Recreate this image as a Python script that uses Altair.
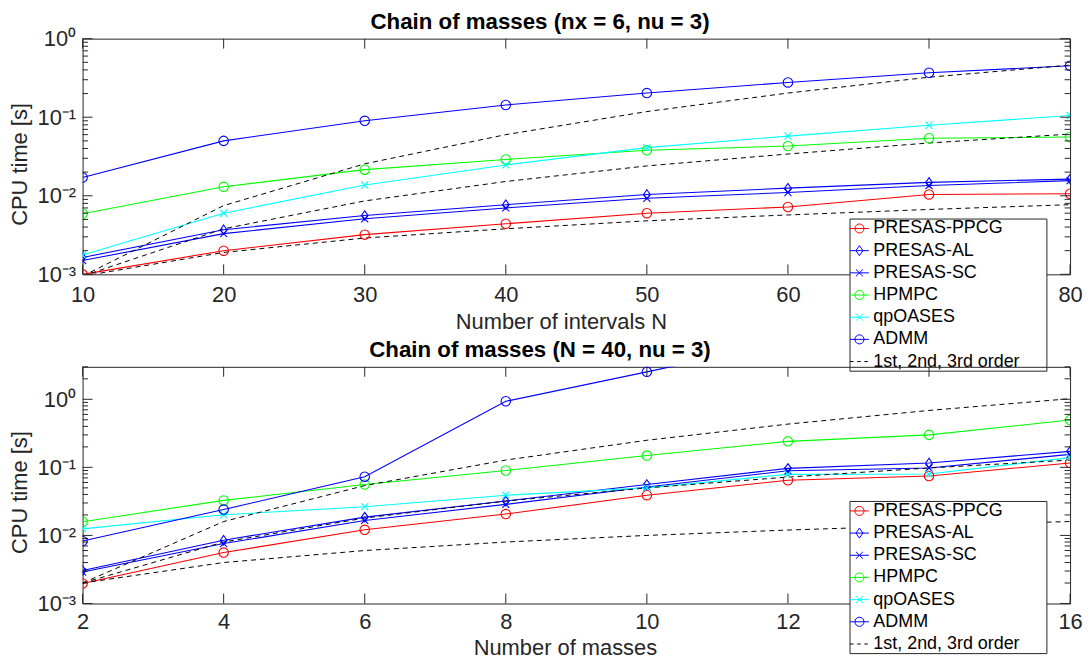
import altair as alt
import pandas as pd

FONT = "Liberation Sans"
AXC = "#262626"

SERIES = ["PRESAS-PPCG", "PRESAS-AL", "PRESAS-SC", "HPMPC", "qpOASES", "ADMM"]
ORDER_LABEL = "1st, 2nd, 3rd order"
COLORS = ["#ff0000", "#0000ff", "#0000ff", "#00ff00", "#00ffff", "#0000ff"]

# ---------------- top panel: CPU time vs number of intervals N ----------------
N_INT = [10, 20, 30, 40, 50, 60, 70, 80]
TOP = {
    "PRESAS-PPCG": [0.00100, 0.0020, 0.0032, 0.0044, 0.0060, 0.0072, 0.0104, 0.0106],
    "PRESAS-AL":   [0.00164, 0.0037, 0.0056, 0.0077, 0.0104, 0.0125, 0.0148, 0.0163],
    "PRESAS-SC":   [0.00150, 0.0033, 0.0051, 0.0070, 0.0093, 0.0110, 0.0135, 0.0156],
    "HPMPC":       [0.0059, 0.0130, 0.0215, 0.0290, 0.0380, 0.0430, 0.0540, 0.0560],
    "qpOASES":     [0.00176, 0.0060, 0.0137, 0.0247, 0.0410, 0.0575, 0.0790, 0.1050],
    "ADMM":        [0.0171, 0.050, 0.090, 0.143, 0.203, 0.277, 0.368, 0.451],
}
TOP_ORDER = {
    "1st": [0.00095, 0.0019, 0.0029, 0.0038, 0.0048, 0.0057, 0.0067, 0.0077],
    "2nd": [0.00095, 0.0038, 0.0086, 0.0152, 0.0240, 0.0340, 0.0470, 0.0610],
    "3rd": [0.00095, 0.0075, 0.0255, 0.0600, 0.1180, 0.2030, 0.3230, 0.4600],
}

# ---------------- bottom panel: CPU time vs number of masses ----------------
MASSES = [2, 4, 6, 8, 10, 12, 14, 16]
BOT = {
    "PRESAS-PPCG": [0.00197, 0.0056, 0.0121, 0.0206, 0.039, 0.0646, 0.0747, 0.116],
    "PRESAS-AL":   [0.00306, 0.0085, 0.0186, 0.0320, 0.056, 0.0967, 0.116, 0.172],
    "PRESAS-SC":   [0.00290, 0.0076, 0.0166, 0.0286, 0.0515, 0.089, 0.098, 0.155],
    "HPMPC":       [0.0159, 0.0327, 0.056, 0.090, 0.149, 0.241, 0.300, 0.497],
    "qpOASES":     [0.0125, 0.0201, 0.0264, 0.039, 0.050, 0.079, 0.080, 0.139],
    "ADMM":        [0.0083, 0.024, 0.073, 0.935, 2.53, 7.0],
}
BOT_ORDER = {
    "1st": [0.002, 0.004, 0.006, 0.008, 0.010, 0.012, 0.014, 0.016],
    "2nd": [0.002, 0.008, 0.018, 0.032, 0.050, 0.072, 0.098, 0.128],
    "3rd": [0.002, 0.016, 0.054, 0.128, 0.250, 0.432, 0.686, 1.020],
}

# ---------------- axis tick positions ----------------
Y_MAJOR = [0.001, 0.01, 0.1, 1]
Y_MINOR_TOP = [0.002, 0.003, 0.004, 0.005, 0.006, 0.007, 0.008, 0.009,
               0.02, 0.03, 0.04, 0.05, 0.06, 0.07, 0.08, 0.09,
               0.2, 0.3, 0.4, 0.5, 0.6, 0.7, 0.8, 0.9]
Y_MINOR_BOT = Y_MINOR_TOP + [2, 3]

W = 993
PLOT_SHAPES = ["circle", "M0,-1L0.7,0L0,1L-0.7,0Z",
               "M-0.75,-0.75L0.75,0.75M-0.75,0.75L0.75,-0.75",
               "circle", "M-0.75,-0.75L0.75,0.75M-0.75,0.75L0.75,-0.75", "circle"]
LEG_CIRCLE = "M-1,0L1,0M0.48,0A0.48,0.48,0,1,1,-0.48,0A0.48,0.48,0,1,1,0.48,0"
LEG_DIAMOND = "M-1,0L1,0M0,-0.53L0.37,0L0,0.53L-0.37,0Z"
LEG_X = "M-1,0L1,0M-0.37,-0.37L0.37,0.37M-0.37,0.37L0.37,-0.37"
LEG_DASH = "M-1,0L-0.62,0M-0.24,0L0.14,0M0.52,0L0.9,0"
LEG_SHAPES = [LEG_CIRCLE, LEG_DIAMOND, LEG_X, LEG_CIRCLE, LEG_X, LEG_CIRCLE, LEG_DASH]

YLABEL = ("datum.value > 0.5 ? '10\u2070' : datum.value > 0.05 ? '10\u207b\u00b9' : "
          "datum.value > 0.005 ? '10\u207b\u00b2' : '10\u207b\u00b3'")
PAD_CHARS = "\u2800" * 2
LEGLABEL = f"datum.label == '{ORDER_LABEL}' ? datum.label + '{PAD_CHARS}' : datum.label"


def long_df(xs, d):
    rows = []
    for s in SERIES:
        for x, y in zip(xs, d[s]):
            rows.append({"x": x, "y": y, "series": s})
    return pd.DataFrame(rows)


def order_df(xs, d):
    rows = []
    for k, vals in d.items():
        for x, y in zip(xs, vals):
            rows.append({"x": x, "y": y, "order": k, "series": ORDER_LABEL})
    return pd.DataFrame(rows)


def panel(xs, xdom, data, orders, ydom, yminor, title, title_off, xtitle, xtitle_x, xtitle_y,
          lab_pad, hidden_label, leg_y, H):
    df = long_df(xs, data)
    dfo = order_df(xs, orders)
    xsc = alt.Scale(domain=xdom, nice=False, zero=False)
    ysc = alt.Scale(type="log", domain=ydom, nice=False)
    xax = alt.Axis(values=xs, title=xtitle, labelPadding=lab_pad, titleX=xtitle_x,
                   titleY=xtitle_y, titleBaseline="alphabetic", format="d", labelFlush=False,
                   labelExpr=f"datum.value == {hidden_label} ? '' : datum.label")
    yax = alt.Axis(values=Y_MAJOR, labelExpr=YLABEL, title="CPU time [s]", labelPadding=7,
                   titleX=-56, titleY=126, titleBaseline="alphabetic", labelFlush=False)

    def X(f="x"):
        return alt.X(f"{f}:Q", scale=xsc, axis=xax)

    def Y(f="y"):
        return alt.Y(f"{f}:Q", scale=ysc, axis=yax)

    def yrules(vals, length, right):
        x0 = W if right else 0
        x1 = W - length if right else length
        return alt.Chart(pd.DataFrame({"v": vals})).mark_rule(color=AXC, strokeWidth=1).encode(
            y=Y("v"), x=alt.value(x0), x2=alt.value(x1))

    def xrules(bottom):
        y0 = H if bottom else 0
        y1 = H - 10 if bottom else 10
        return alt.Chart(pd.DataFrame({"t": xs})).mark_rule(color=AXC, strokeWidth=1).encode(
            x=X("t"), y=alt.value(y0), y2=alt.value(y1))

    rules = [yrules(Y_MAJOR, 10, False), yrules(yminor, 5.5, False),
             yrules(Y_MAJOR, 10, True), yrules(yminor, 5.5, True),
             xrules(False), xrules(True)]

    cs = alt.Scale(domain=SERIES, range=COLORS)
    lines = alt.Chart(df).mark_line(strokeWidth=1.1, clip=True).encode(
        X(), Y(), color=alt.Color("series:N", scale=cs, legend=None))
    dashed = alt.Chart(dfo).mark_line(strokeWidth=1, strokeDash=[5, 4], color="black",
                                      clip=True).encode(X(), Y(), detail="order:N")
    points = alt.Chart(df).mark_point(filled=False, size=90, strokeWidth=1.1, opacity=1,
                                      clip=True).encode(
        X(), Y(),
        color=alt.Color("series:N", scale=cs, legend=None),
        shape=alt.Shape("series:N", scale=alt.Scale(domain=SERIES, range=PLOT_SHAPES),
                        legend=None))

    dom7 = SERIES + [ORDER_LABEL]
    leg = dict(orient="none", legendX=771.2, legendY=leg_y, title=None,
               labelFont=FONT, labelFontSize=18, labelColor="#000000",
               symbolSize=361, symbolStrokeWidth=1, padding=0, rowPadding=3.3,
               labelOffset=4, strokeColor=AXC, fillColor="white", labelLimit=400,
               labelExpr=LEGLABEL)
    legend_layer = alt.Chart(df).transform_filter("false").mark_point(
        filled=False, opacity=1).encode(
        X(), Y(),
        color=alt.Color("series:N", scale=alt.Scale(domain=dom7, range=COLORS + ["#000000"]),
                        legend=alt.Legend(**leg)),
        shape=alt.Shape("series:N", scale=alt.Scale(domain=dom7, range=LEG_SHAPES),
                        legend=alt.Legend(**leg)))

    return alt.layer(lines, dashed, points, *rules, legend_layer).properties(
        width=W, height=H,
        title=alt.TitleParams(text=title, dx=-36.5, frame="group", anchor="middle",
                              baseline="alphabetic", offset=title_off, font=FONT, fontSize=22.4,
                              fontWeight="bold", color="#000000"),
    ).resolve_scale(color="independent", shape="independent")


top = panel(N_INT, [10, 80], TOP, TOP_ORDER, [0.001, 1], Y_MINOR_TOP,
            "Chain of masses (nx = 6, nu = 3)", -23.6, "Number of intervals N", 481, 54, 10,
            70, 180.9, 237)
bot = panel(MASSES, [2, 16], BOT, BOT_ORDER, [0.001, 3], Y_MINOR_BOT,
            "Chain of masses (N = 40, nu = 3)", -13.5, "Number of masses", 485, 51, 8,
            14, 134.9, 238)

chart = alt.vconcat(top, bot, spacing=93, bounds="flush").properties(
    padding={"left": 0, "top": 0, "right": 0, "bottom": 0}
).configure_view(stroke=AXC, strokeWidth=1).configure_axis(
    grid=False, ticks=False, tickSize=0, domain=False,
    labelFont=FONT, labelFontSize=22, labelColor=AXC,
    titleFont=FONT, titleFontSize=22, titleColor=AXC, titleFontWeight="normal",
)

chart.save("out.html", embed_options={"renderer": "svg", "actions": False})
